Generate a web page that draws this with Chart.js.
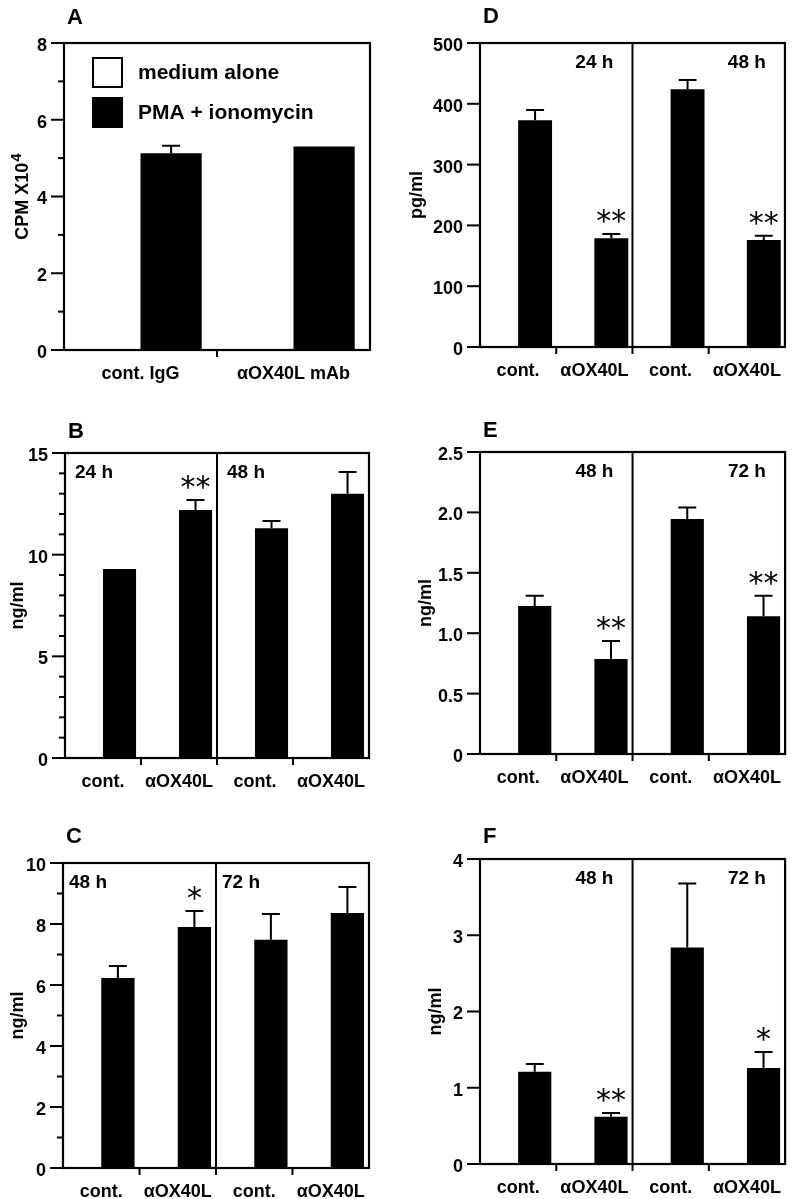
<!DOCTYPE html>
<html>
<head>
<meta charset="utf-8">
<script src="https://cdn.jsdelivr.net/npm/chart.js"></script>
<style>
  body { margin: 0; background: #fff; }
  #fig { position: relative; width: 795px; height: 1199px; background: #fff; }
  canvas { position: absolute; }
</style>
</head>
<body>
<div id="fig"></div>
<script>
// data
const groupLabels = ['medium alone', 'PMA + ionomycin'];
const catsA = ['cont. IgG', 'αOX40L mAb'];
const catsTime = ['cont.', 'αOX40L', 'cont.', 'αOX40L'];

const mediumA = [0, 0];
const pmaA = [5.13, 5.30];
const errA = [0.19, 0];
const sigA = ['', ''];

const mediumB = [0, 0, 0, 0];
const valuesB = [9.3, 12.2, 11.3, 13.0];
const errB = [0, 0.49, 0.35, 1.07];
const sigB = ['', '**', '', ''];
const timesB = ['24 h', '48 h'];

const mediumC = [0, 0, 0, 0];
const valuesC = [6.23, 7.9, 7.48, 8.36];
const errC = [0.39, 0.53, 0.85, 0.85];
const sigC = ['', '*', '', ''];
const timesC = ['48 h', '72 h'];

const mediumD = [0, 0, 0, 0];
const valuesD = [373, 179, 424, 176];
const errD = [17, 7, 15, 7];
const sigD = ['', '**', '', '**'];
const timesD = ['24 h', '48 h'];

const mediumE = [0, 0, 0, 0];
const valuesE = [1.225, 0.786, 1.945, 1.14];
const errE = [0.085, 0.15, 0.095, 0.17];
const sigE = ['', '**', '', '**'];
const timesE = ['48 h', '72 h'];

const mediumF = [0, 0, 0, 0];
const valuesF = [1.21, 0.62, 2.84, 1.26];
const errF = [0.10, 0.05, 0.84, 0.21];
const sigF = ['', '**', '', '*'];
const timesF = ['48 h', '72 h'];

const FONT = '"Liberation Sans", Arial, Helvetica, sans-serif';

// panel layout: box = canvas [x, y, w, h], plot = chart area [l, t, r, b]
const panels = [
  { letter: 'A', labels: catsA, medium: mediumA, values: pmaA, err: errA, sig: sigA, times: null,
    yTitle: 'CPM X10', ySup: '4', yMax: 8, yStep: 1, yMajor: 2, yDec: 0,
    box: [0, 0, 395, 400], plot: [64, 43, 370, 350], titleX: 23, letterDy: 19, catPct: 0.8, legend: true },
  { letter: 'B', labels: catsTime, medium: mediumB, values: valuesB, err: errB, sig: sigB, times: timesB,
    yTitle: 'ng/ml', yMax: 15, yStep: 1, yMajor: 5, yDec: 0, timeAlign: 'left', timeDx: 10,
    box: [0, 400, 395, 420], plot: [65, 453, 369, 758], titleX: 18, letterDy: 15, catPct: 0.87 },
  { letter: 'C', labels: catsTime, medium: mediumC, values: valuesC, err: errC, sig: sigC, times: timesC,
    yTitle: 'ng/ml', yMax: 10, yStep: 1, yMajor: 2, yDec: 0, timeAlign: 'left', timeDx: 6,
    box: [0, 820, 395, 379], plot: [63, 863, 369, 1168], titleX: 18, letterDy: 20, catPct: 0.87 },
  { letter: 'D', labels: catsTime, medium: mediumD, values: valuesD, err: errD, sig: sigD, times: timesD,
    yTitle: 'pg/ml', yMax: 500, yStep: 100, yMajor: 100, yDec: 0, timeAlign: 'right',
    box: [395, 0, 400, 400], plot: [480, 43, 786, 347], titleX: 22, letterDy: 20, catPct: 0.89 },
  { letter: 'E', labels: catsTime, medium: mediumE, values: valuesE, err: errE, sig: sigE, times: timesE,
    yTitle: 'ng/ml', yMax: 2.5, yStep: 0.5, yMajor: 0.5, yDec: 1, timeAlign: 'right',
    box: [395, 400, 400, 420], plot: [480, 452, 787, 754], titleX: 31, letterDy: 15, catPct: 0.87 },
  { letter: 'F', labels: catsTime, medium: mediumF, values: valuesF, err: errF, sig: sigF, times: timesF,
    yTitle: 'ng/ml', yMax: 4, yStep: 1, yMajor: 1, yDec: 0, timeAlign: 'right',
    box: [395, 820, 400, 379], plot: [480, 859, 787, 1164], titleX: 41, letterDy: 16, catPct: 0.87 }
];

// axes frame, ticks, error bars and annotations
const panelPlugin = {
  id: 'panel',
  afterDatasetsDraw(chart, args, o) {
    const ctx = chart.ctx, a = chart.chartArea;
    const xs = chart.scales.x, ys = chart.scales.y;
    ctx.save();
    ctx.strokeStyle = '#000';
    ctx.fillStyle = '#000';
    ctx.lineCap = 'butt';

    // error bars (upper only)
    const meta = chart.getDatasetMeta(1);
    meta.data.forEach((bar, i) => {
      const e = o.err[i];
      if (!e) return;
      const yt = ys.getPixelForValue(o.values[i] + e);
      ctx.lineWidth = 2;
      ctx.beginPath();
      ctx.moveTo(bar.x, bar.y);
      ctx.lineTo(bar.x, yt);
      ctx.moveTo(bar.x - 9, yt);
      ctx.lineTo(bar.x + 9, yt);
      ctx.stroke();
    });

    // frame
    ctx.lineWidth = 2.2;
    ctx.strokeRect(a.left, a.top, a.right - a.left, a.bottom - a.top);

    // y ticks, major and minor
    ctx.lineWidth = 2;
    ys.ticks.forEach(t => {
      const q = t.value / o.yMajor;
      const major = Math.abs(q - Math.round(q)) < 1e-6;
      const len = major ? 13 : 6;
      const py = ys.getPixelForValue(t.value);
      ctx.beginPath();
      ctx.moveTo(a.left - len, py);
      ctx.lineTo(a.left, py);
      ctx.stroke();
    });

    // x ticks between categories, centre divider for time panels
    const n = o.labels.length;
    for (let i = 1; i < n; i++) {
      const px = (xs.getPixelForValue(i - 1) + xs.getPixelForValue(i)) / 2;
      const divider = n === 4 && i === 2;
      ctx.beginPath();
      ctx.moveTo(px, divider ? a.top : a.bottom);
      ctx.lineTo(px, a.bottom + 7);
      ctx.stroke();
    }

    // significance marks
    ctx.font = '30px "DejaVu Sans", sans-serif';
    ctx.textAlign = 'center';
    ctx.textBaseline = 'alphabetic';
    meta.data.forEach((bar, i) => {
      if (!o.sig[i]) return;
      const yt = ys.getPixelForValue(o.values[i] + o.err[i]);
      ctx.fillText(o.sig[i], bar.x, yt - 19 + 16);
    });

    // time labels
    if (o.times) {
      ctx.font = 'bold 19px ' + FONT;
      ctx.textBaseline = 'middle';
      const mid = (xs.getPixelForValue(1) + xs.getPixelForValue(2)) / 2;
      o.times.forEach((t, k) => {
        if (o.timeAlign === 'left') {
          ctx.textAlign = 'left';
          ctx.fillText(t, (k === 0 ? a.left : mid) + o.timeDx, a.top + 20);
        } else {
          ctx.textAlign = 'center';
          ctx.fillText(t, xs.getPixelForValue(2 * k + 1), a.top + 20);
        }
      });
    }

    // panel letter
    ctx.font = 'bold 22px ' + FONT;
    ctx.textAlign = 'left';
    ctx.textBaseline = 'alphabetic';
    ctx.fillText(o.letter, a.left + 3, a.top - o.letterDy);

    // y title, rotated
    ctx.save();
    ctx.translate(o.titleX, (a.top + a.bottom) / 2);
    ctx.rotate(-Math.PI / 2);
    ctx.font = 'bold 18px ' + FONT;
    ctx.textBaseline = 'middle';
    ctx.textAlign = 'left';
    const w1 = ctx.measureText(o.yTitle).width;
    let w2 = 0;
    if (o.ySup) {
      ctx.font = 'bold 15px ' + FONT;
      w2 = ctx.measureText(o.ySup).width + 1;
    }
    const x0 = -(w1 + w2) / 2;
    ctx.font = 'bold 18px ' + FONT;
    ctx.fillText(o.yTitle, x0, 0);
    if (o.ySup) {
      ctx.font = 'bold 15px ' + FONT;
      ctx.fillText(o.ySup, x0 + w1 + 1, -6);
    }
    ctx.restore();

    // legend inside panel A
    if (o.legend) {
      const ds = chart.data.datasets;
      ctx.font = 'bold 21px ' + FONT;
      ctx.textAlign = 'left';
      ctx.textBaseline = 'middle';
      ds.forEach((d, k) => {
        const bx = a.left + 29, by = a.top + 15 + k * 40;
        ctx.fillStyle = d.backgroundColor;
        ctx.fillRect(bx, by, 29, 29);
        ctx.lineWidth = 2;
        ctx.strokeRect(bx, by, 29, 29);
        ctx.fillStyle = '#000';
        ctx.fillText(d.label, bx + 45, by + 15);
      });
    }
    ctx.restore();
  }
};

const fig = document.getElementById('fig');

panels.forEach(p => {
  const cv = document.createElement('canvas');
  cv.width = p.box[2];
  cv.height = p.box[3];
  cv.style.left = p.box[0] + 'px';
  cv.style.top = p.box[1] + 'px';
  fig.appendChild(cv);

  const tickFont = { family: FONT, size: 18, weight: 'bold' };

  new Chart(cv, {
    type: 'bar',
    data: {
      labels: p.labels,
      datasets: [
        { label: groupLabels[0], data: p.medium, backgroundColor: '#ffffff', borderColor: '#000000', borderWidth: 2 },
        { label: groupLabels[1], data: p.values, backgroundColor: '#000000', borderWidth: 0 }
      ]
    },
    options: {
      responsive: false,
      animation: false,
      devicePixelRatio: 1,
      layout: {
        padding: {
          left: 0,
          bottom: 0,
          top: p.plot[1] - p.box[1],
          right: p.box[0] + p.box[2] - p.plot[2]
        }
      },
      datasets: { bar: { categoryPercentage: p.catPct, barPercentage: 1 } },
      plugins: {
        legend: { display: false },
        tooltip: { enabled: false },
        panel: p
      },
      scales: {
        x: {
          grid: { display: false, drawTicks: false },
          border: { display: false },
          ticks: { color: '#000', font: tickFont, padding: 13, maxRotation: 0, autoSkip: false },
          afterFit: s => { s.height = p.box[1] + p.box[3] - p.plot[3]; }
        },
        y: {
          min: 0,
          max: p.yMax,
          grid: { display: false, drawTicks: false },
          border: { display: false },
          ticks: {
            stepSize: p.yStep,
            autoSkip: false,
            color: '#000',
            font: tickFont,
            padding: 17,
            labelOffset: 3,
            callback: v => {
              const q = v / p.yMajor;
              if (Math.abs(q - Math.round(q)) > 1e-6) return '';
              return v === 0 ? '0' : v.toFixed(p.yDec);
            }
          },
          afterFit: s => { s.width = p.plot[0] - p.box[0]; }
        }
      }
    },
    plugins: [panelPlugin]
  });
});
</script>
</body>
</html>
